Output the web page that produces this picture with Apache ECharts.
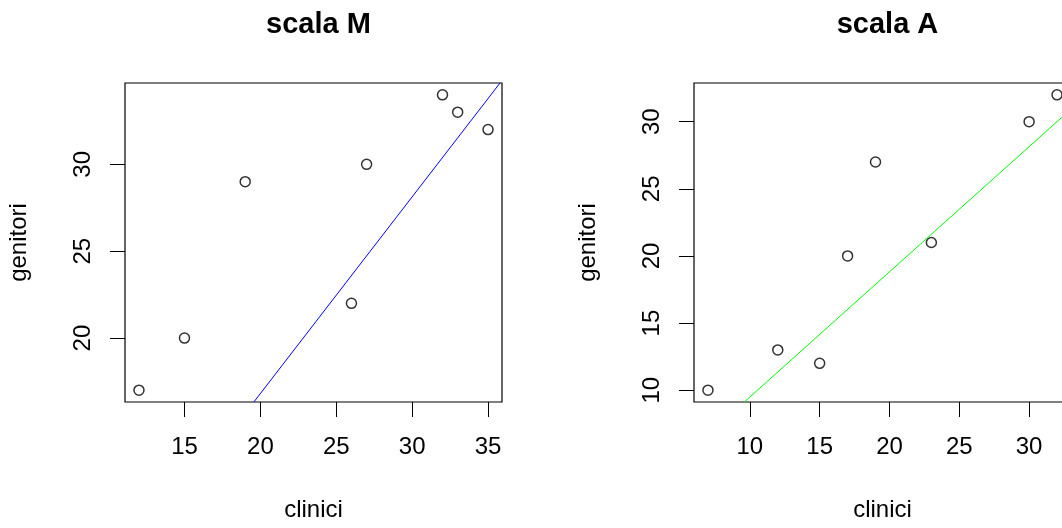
<!DOCTYPE html>
<html>
<head>
<meta charset="utf-8">
<script src="https://cdn.jsdelivr.net/npm/echarts@6/dist/echarts.min.js"></script>
<style>
html,body{margin:0;padding:0;background:#fff;}
#chart{width:1062px;height:528px;}
</style>
</head>
<body>
<div id="chart"></div>
<script>
// ---- data: scala M ----
const clinicoM  = [12, 15, 19, 26, 27, 32, 33, 35];
const genitoreM = [17, 20, 29, 22, 30, 34, 33, 32];
const lineM = [[19.57, 16.32], [35.79, 34.68]];
const xTicksM = [15, 20, 25, 30, 35];
const yTicksM = [20, 25, 30];
// ---- data: scala A ----
const clinicoA  = [7, 12, 15, 17, 19, 23, 30, 32];
const genitoreA = [10, 13, 12, 20, 27, 21, 30, 32];
const lineA = [[9.57, 9.09], [33.5, 31.4]];
const xTicksA = [10, 15, 20, 25, 30];
const yTicksA = [10, 15, 20, 25, 30];
const titles = ['scala M', 'scala A'];
const xName = 'clinici';
const yName = 'genitori';

function ext(arr) { // R's default 4% axis extension
  const mn = Math.min(...arr), mx = Math.max(...arr), d = (mx - mn) * 0.04;
  return [mn - d, mx + d];
}
const FONT = "'Liberation Sans', Arial, sans-serif";
function xAx(idx, vals, ticks) {
  const r = ext(vals);
  return {
    type: 'value', gridIndex: idx, min: r[0], max: r[1],
    name: xName, nameLocation: 'middle', nameGap: 96,
    nameTextStyle: {fontFamily: FONT, fontSize: 24, color: '#000'},
    axisLine: {show: false},
    splitLine: {show: false},
    axisTick: {show: true, inside: false, length: 15, customValues: ticks, lineStyle: {color: '#000', width: 1}},
    axisLabel: {show: true, margin: 33, customValues: ticks, fontFamily: FONT, fontSize: 24, color: '#000'}
  };
}
function yAx(idx, vals, ticks) {
  const r = ext(vals);
  return {
    type: 'value', gridIndex: idx, min: r[0], max: r[1],
    name: yName, nameLocation: 'middle', nameGap: 94,
    nameTextStyle: {fontFamily: FONT, fontSize: 24, color: '#000'},
    axisLine: {show: false},
    splitLine: {show: false},
    axisTick: {show: true, inside: false, length: 15, customValues: ticks, lineStyle: {color: '#000', width: 1}},
    axisLabel: {show: true, rotate: 90, margin: 30, customValues: ticks, fontFamily: FONT, fontSize: 24, color: '#000'}
  };
}
function pts(x, y) { return x.map((v, i) => [v, y[i]]); }
const ptStyle = {color: 'rgba(0,0,0,0)', borderColor: '#000', borderWidth: 1.5};

const chart = echarts.init(document.getElementById('chart'), null, {renderer: 'canvas'});
chart.setOption({
  animation: false,
  backgroundColor: '#fff',
  title: [
    {text: titles[0], left: 313.5, textAlign: 'center', top: 5,
     textStyle: {fontFamily: FONT, fontSize: 29, fontWeight: 'bold', color: '#000'}},
    {text: titles[1], left: 882.5, textAlign: 'center', top: 5,
     textStyle: {fontFamily: FONT, fontSize: 29, fontWeight: 'bold', color: '#000'}}
  ],
  grid: [
    {left: 125, top: 83, width: 377, height: 319, outerBoundsMode: 'none', containLabel: false,
     show: true, borderColor: '#000', borderWidth: 1.2, backgroundColor: 'transparent'},
    {left: 694, top: 83, width: 377, height: 319, outerBoundsMode: 'none', containLabel: false,
     show: true, borderColor: '#000', borderWidth: 1.2, backgroundColor: 'transparent'}
  ],
  xAxis: [xAx(0, clinicoM, xTicksM), xAx(1, clinicoA, xTicksA)],
  yAxis: [yAx(0, genitoreM, yTicksM), yAx(1, genitoreA, yTicksA)],
  series: [
    {type: 'scatter', xAxisIndex: 0, yAxisIndex: 0, data: pts(clinicoM, genitoreM),
     symbol: 'circle', symbolSize: 10, itemStyle: ptStyle, silent: true},
    {type: 'line', xAxisIndex: 0, yAxisIndex: 0, data: lineM, showSymbol: false, clip: true,
     lineStyle: {color: '#0000ff', width: 1}, silent: true},
    {type: 'scatter', xAxisIndex: 1, yAxisIndex: 1, data: pts(clinicoA, genitoreA),
     symbol: 'circle', symbolSize: 10, itemStyle: ptStyle, silent: true},
    {type: 'line', xAxisIndex: 1, yAxisIndex: 1, data: lineA, showSymbol: false, clip: true,
     lineStyle: {color: '#00ff00', width: 1}, silent: true}
  ]
});
</script>
</body>
</html>
